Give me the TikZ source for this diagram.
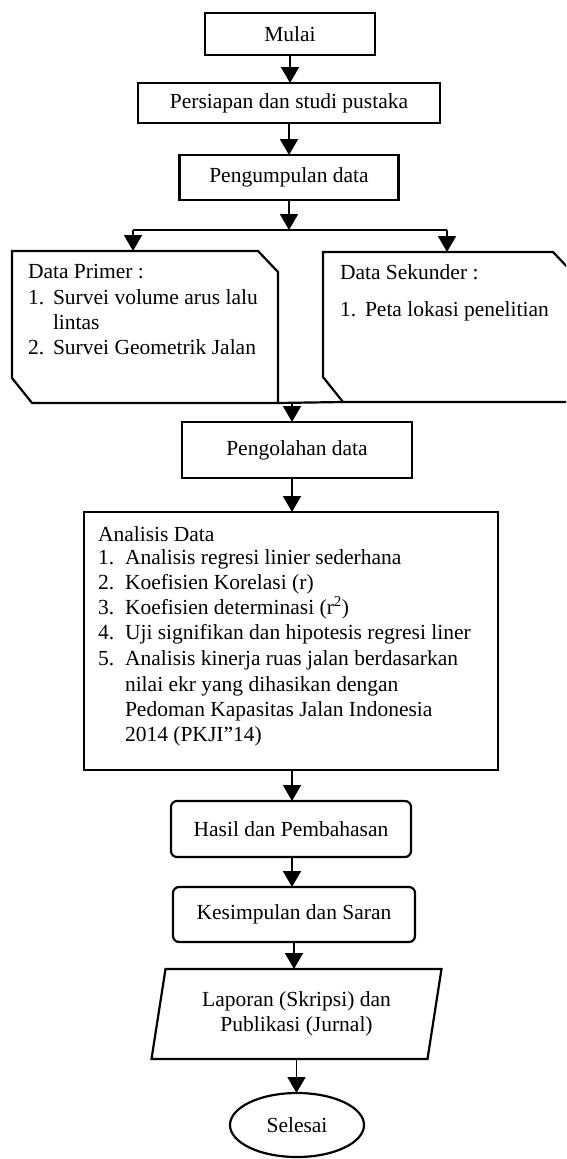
\documentclass[tikz,border=0pt]{standalone}
\usepackage{fontspec}
\setmainfont{Liberation Serif}
\usetikzlibrary{arrows.meta,shapes.geometric,calc}
\newcommand{\fsz}{\fontsize{21.5}{25}\selectfont}
\begin{document}
\begin{tikzpicture}[x=1pt,y=-1pt,
  box/.style={draw, line width=2.2pt, inner sep=0pt, outer sep=0pt, font=\fsz, align=center},
  rbox/.style={box, rounded corners=6pt},
  ghost/.style={inner sep=0pt, outer sep=0pt},
  txt/.style={anchor=base west, inner sep=0pt, outer sep=0pt, font=\fsz},
  outline/.style={line width=2.2pt, line join=miter},
  conn/.style={line width=1.8pt},
  arr/.style={line width=1.8pt, -{Triangle[width=18pt,length=16pt]}}]
\useasboundingbox[fill=white] (0,0) rectangle (566,1159);
\clip (0,0) rectangle (566,1159);

% top chain
\node[box, minimum width=170, minimum height=42] (m) at (290,34) {Mulai};
\node[box, minimum width=302, minimum height=40] (ps) at (289,103) {Persiapan dan studi pustaka};
\node[box, minimum width=219, minimum height=45] (pk) at (289,177.5) {Pengumpulan data};
\draw[arr] (m.south) -- (m.south |- ps.north);
\draw[arr] (ps.south) -- (ps.south |- pk.north);

% split
\coordinate (sp) at (289,230);
\coordinate (spl) at (133,230);
\coordinate (spr) at (447,230);
\draw[arr] (pk.south) -- (sp);
\draw[conn] (spl) -- (spr);

% data boxes
\node[ghost, minimum width=266, minimum height=152] (dp) at (145,327) {};
\node[ghost, minimum width=250, minimum height=150] (ds) at (448,327) {};
\draw[outline] (dp.north west) -- ($(dp.north east)+(-20,0)$) -- ($(dp.north east)+(0,21)$)
  -- (dp.south east) -- ($(dp.south west)+(20,0)$) -- ($(dp.south west)+(0,-25)$) -- cycle;
\draw[outline] (ds.north west) -- ($(ds.north east)+(-20,0)$) -- ($(ds.north east)+(0,21)$)
  -- (ds.south east) -- ($(ds.south west)+(20,0)$) -- ($(ds.south west)+(0,-25)$) -- cycle;
\draw[arr] (spl) -- (spl |- dp.north);
\draw[arr] (spr) -- (spr |- ds.north);

\node[txt] (dp0) at (28,278) {Data Primer :};
\node[txt] (dp1n) at (28,304) {1.};
\node[txt] (dp1) at (53,304) {Survei volume arus lalu};
\node[txt] (dp1b) at (53,329) {lintas};
\node[txt] (dp2n) at (28,354) {2.};
\node[txt] (dp2) at (53,354) {Survei Geometrik Jalan};

\node[txt] (ds0) at (340,279) {Data Sekunder :};
\node[txt] (ds1n) at (340,316) {1.};
\node[txt] (ds1) at (365,316) {Peta lokasi penelitian};

% merge
\coordinate (mg) at (292,403);
\draw[outline] (dp.south east) -- ($(ds.south west)+(20,0)$);

% processing
\node[box, minimum width=230, minimum height=56] (pg) at (297,450) {Pengolahan data};
\draw[arr] (mg) -- (mg |- pg.north);

\node[box, minimum width=414, minimum height=258] (an) at (291,641) {};
\draw[arr] (pg.south -| mg) -- (mg |- an.north);

\node[txt] (a0) at (98,541) {Analisis Data};
\node[txt] (a1n) at (98,564) {1.};
\node[txt] (a1) at (125,564) {Analisis regresi linier sederhana};
\node[txt] (a2n) at (98,589) {2.};
\node[txt] (a2) at (125,589) {Koefisien Korelasi (r)};
\node[txt] (a3n) at (98,614) {3.};
\node[txt] (a3) at (125,614) {Koefisien determinasi (r\textsuperscript{2})};
\node[txt] (a4n) at (98,639) {4.};
\node[txt] (a4) at (125,639) {Uji signifikan dan hipotesis regresi liner};
\node[txt] (a5n) at (98,665) {5.};
\node[txt] (a5) at (125,665) {Analisis kinerja ruas jalan berdasarkan};
\node[txt] (a5b) at (125,691) {nilai ekr yang dihasikan dengan};
\node[txt] (a5c) at (125,716) {Pedoman Kapasitas Jalan Indonesia};
\node[txt] (a5d) at (125,741) {2014 (PKJI”14)};

% results
\node[rbox, minimum width=240, minimum height=56] (hs) at (291,829) {Hasil dan Pembahasan};
\draw[arr] (an.south -| mg) -- (mg |- hs.north);
\node[rbox, minimum width=242, minimum height=55] (ks) at (294,914.5) {Kesimpulan dan Saran};
\draw[arr] (hs.south -| mg) -- (mg |- ks.north);

\node[ghost, minimum width=276, minimum height=90, font=\fsz, align=center] (lp) at (296.5,1014)
  {Laporan (Skripsi) dan\\Publikasi (Jurnal)};
\draw[outline] ($(lp.north west)+(7,0)$) -- ($(lp.north east)+(7,0)$)
  -- ($(lp.south east)+(-7,0)$) -- ($(lp.south west)+(-7,0)$) -- cycle;
\draw[arr] (ks.south) -- (ks.south |- lp.north);

\node[box, ellipse, minimum width=134, minimum height=64] (sl) at (297,1125) {Selesai};
\draw[arr] (lp.south) -- (lp.south |- sl.north);
\end{tikzpicture}
\end{document}
